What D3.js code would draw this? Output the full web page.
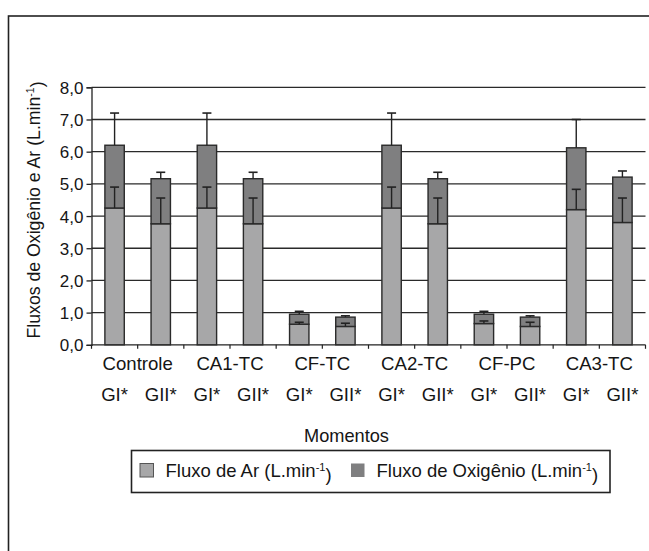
<!DOCTYPE html>
<html><head><meta charset="utf-8">
<script src="https://cdn.jsdelivr.net/npm/d3@7"></script>
<style>body{margin:0;background:#fff}svg{display:block}text{font-family:"Liberation Sans",Arial,sans-serif;fill:#151515}</style>
</head><body>
<script>
const groups = ["Controle","CA1-TC","CF-TC","CA2-TC","CF-PC","CA3-TC"];
const subgroups = ["GI*","GII*"];
const arValues = [4.25,3.76, 4.25,3.76, 0.64,0.57, 4.25,3.76, 0.66,0.57, 4.2,3.8];
const oxValues = [1.95,1.40, 1.95,1.40, 0.31,0.29, 1.95,1.40, 0.29,0.29, 1.92,1.41];
const arErr = [0.65,0.8, 0.65,0.8, 0.06,0.1, 0.65,0.8, 0.08,0.13, 0.63,0.76];
const totalErr = [1.0,0.2, 1.0,0.2, 0.09,0.04, 1.0,0.2, 0.09,0.04, 0.88,0.19];
const yTicks = [0,1,2,3,4,5,6,7,8];
const seriesNames = ["Fluxo de Ar (L.min", "Fluxo de Oxigênio (L.min"];
const colors = ["#a7a7a8","#7f7f80"];

const W=649,H=551;
const svg=d3.select("body").append("svg").attr("width",W).attr("height",H);
svg.append("rect").attr("x",8.5).attr("y",16).attr("width",700).attr("height",700).attr("fill","none").attr("stroke","#222").attr("stroke-width",1.6);

const bars=[];
groups.forEach((g,gi)=>subgroups.forEach((s,si)=>{const i=gi*2+si;bars.push({id:i,g,s,ar:arValues[i],ox:oxValues[i],ae:arErr[i],te:totalErr[i]});}));

const x=d3.scaleBand().domain(bars.map(d=>d.id)).range([91.5,645.5]).paddingInner(0.58).paddingOuter(0.29);
const y=d3.scaleLinear().domain([0,8]).range([344.8,87.3]);
const step=x.step();

// gridlines
svg.append("g").selectAll("line").data(yTicks.filter(t=>t>0)).join("line")
 .attr("x1",91.5).attr("x2",645.5).attr("y1",d=>y(d)).attr("y2",d=>y(d))
 .attr("stroke","#2a2a2a").attr("stroke-width",1.3);

// y axis
const ya=svg.append("g").attr("transform","translate(91.5,0)")
 .call(d3.axisLeft(y).tickValues(yTicks).tickSize(5).tickPadding(3).tickFormat(d=>d3.format(".1f")(d).replace(".",",")));
ya.select(".domain").attr("stroke","#222").attr("stroke-width",1.3);
ya.selectAll(".tick line").attr("stroke","#222").attr("stroke-width",1.3);
ya.selectAll("text").style("font-size","17px").attr("fill","#151515").attr("dy","0.36em");

// x axis line and ticks
const xg=svg.append("g");
xg.append("line").attr("x1",91.5).attr("x2",645.5).attr("y1",y(0)).attr("y2",y(0)).attr("stroke","#222").attr("stroke-width",1.3);
xg.selectAll("line.t").data(d3.range(13)).join("line").attr("class","t")
 .attr("x1",d=>91.5+d*step).attr("x2",d=>91.5+d*step).attr("y1",y(0)).attr("y2",y(0)+4)
 .attr("stroke","#222").attr("stroke-width",1.2);

// bars
const bg=svg.append("g");
bg.selectAll("rect.ar").data(bars).join("rect").attr("class","ar")
 .attr("x",d=>x(d.id)).attr("width",x.bandwidth()).attr("y",d=>y(d.ar)).attr("height",d=>y(0)-y(d.ar))
 .attr("fill",colors[0]).attr("stroke","#2a2a2a").attr("stroke-width",1.4);
bg.selectAll("rect.ox").data(bars).join("rect").attr("class","ox")
 .attr("x",d=>x(d.id)).attr("width",x.bandwidth()).attr("y",d=>y(d.ar+d.ox)).attr("height",d=>y(d.ar)-y(d.ar+d.ox))
 .attr("fill",colors[1]).attr("stroke","#2a2a2a").attr("stroke-width",1.4);

// error bars
function errbars(cls,base,err){
 const g=svg.append("g");
 g.selectAll("line.v"+cls).data(bars).join("line")
  .attr("x1",d=>x(d.id)+x.bandwidth()/2).attr("x2",d=>x(d.id)+x.bandwidth()/2)
  .attr("y1",d=>y(base(d))).attr("y2",d=>y(base(d)+err(d))).attr("stroke","#222").attr("stroke-width",1.4);
 g.selectAll("line.c"+cls).data(bars).join("line")
  .attr("x1",d=>x(d.id)+x.bandwidth()/2-4.5).attr("x2",d=>x(d.id)+x.bandwidth()/2+4.5)
  .attr("y1",d=>y(base(d)+err(d))).attr("y2",d=>y(base(d)+err(d))).attr("stroke","#222").attr("stroke-width",1.6);
}
errbars("a",d=>d.ar,d=>d.ae);
errbars("t",d=>d.ar+d.ox,d=>d.te);

// category labels
svg.append("g").selectAll("text").data(groups).join("text")
 .attr("x",(d,i)=>91.5+step*(2*i+1)).attr("y",370).attr("text-anchor","middle").style("font-size","18.6px").text(d=>d);
svg.append("g").selectAll("text").data(bars).join("text")
 .attr("x",d=>x(d.id)+x.bandwidth()/2).attr("y",401).attr("text-anchor","middle").style("font-size","18.6px").text(d=>d.s);

svg.append("text").attr("x",346.5).attr("y",441.5).attr("text-anchor","middle").style("font-size","18.2px").text("Momentos");

// y title
const yt=svg.append("text").attr("transform","translate(39.5,210) rotate(-90)").attr("text-anchor","middle").style("font-size","17.7px");
yt.append("tspan").text("Fluxos de Oxigênio e Ar (L.min");
yt.append("tspan").attr("dy","-0.5em").style("font-size","10.5px").text("-1");
yt.append("tspan").attr("dy","0.5em").text(")");

// legend
const lg=svg.append("g");
lg.append("rect").attr("x",131.5).attr("y",450.5).attr("width",478.5).attr("height",42).attr("fill","none").attr("stroke","#222").attr("stroke-width",1.6);
const lx=[140,351];
seriesNames.forEach((n,i)=>{
 lg.append("rect").attr("x",lx[i]).attr("y",463.5).attr("width",13.5).attr("height",13.5).attr("fill",colors[i]).attr("stroke",i===0?"#555":"none").attr("stroke-width",1);
 const t=lg.append("text").attr("x",lx[i]+25.5).attr("y",477).style("font-size","18.5px");
 t.append("tspan").text(n);
 t.append("tspan").attr("dy","-0.55em").style("font-size","11px").text("-1");
 t.append("tspan").attr("dy","0.55em").text(")");
});
</script>
</body></html>
